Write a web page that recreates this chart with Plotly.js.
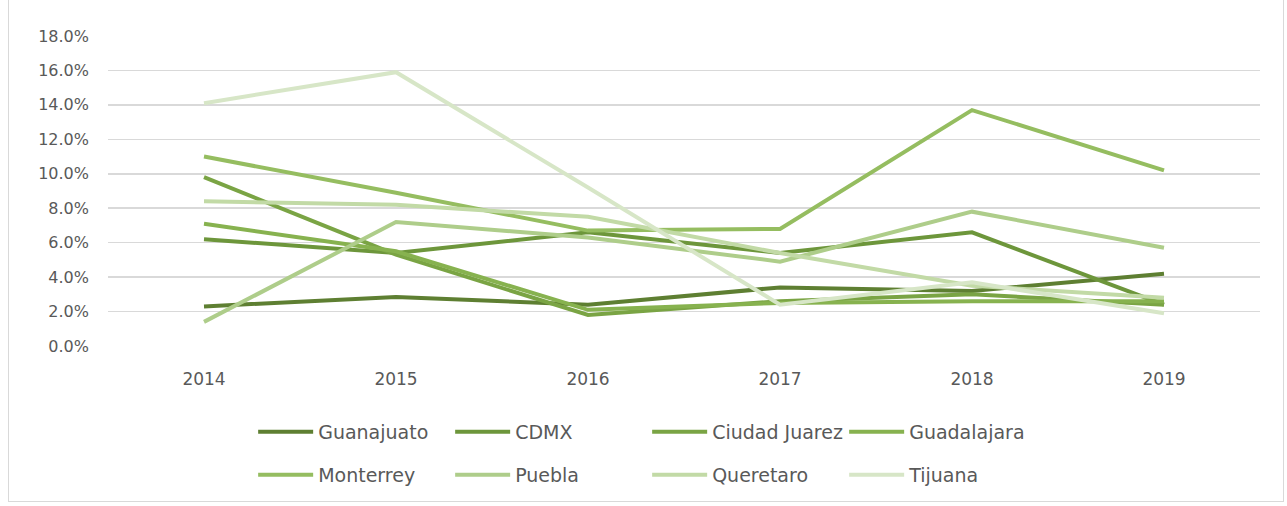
<!DOCTYPE html>
<html>
<head>
<meta charset="utf-8">
<script src="https://cdn.plot.ly/plotly-3.0.1.min.js"></script>
<style>
  html, body { margin: 0; padding: 0; background: #fff; }
  #frame { position: absolute; left: 8px; top: -2px; width: 1276px; height: 504px; border: 1px solid #d9d9d9; box-sizing: border-box; pointer-events: none; }
  #chart { width: 1287px; height: 506px; }
</style>
</head>
<body>
<div id="chart"></div>
<div id="frame"></div>
<script>
const years = ['2014', '2015', '2016', '2017', '2018', '2019'];
const guanajuato   = [2.3, 2.85, 2.4, 3.4, 3.2, 4.2];
const cdmx         = [6.2, 5.4, 6.6, 5.4, 6.6, 2.4];
const ciudadJuarez = [9.8, 5.3, 1.8, 2.6, 3.0, 2.4];
const guadalajara  = [7.1, 5.5, 2.1, 2.5, 2.6, 2.6];
const monterrey    = [11.0, 8.9, 6.7, 6.8, 13.7, 10.2];
const puebla       = [1.4, 7.2, 6.3, 4.9, 7.8, 5.7];
const queretaro    = [8.4, 8.2, 7.5, 5.4, 3.5, 2.8];
const tijuana      = [14.1, 15.9, 9.2, 2.4, 3.7, 1.9];
const yTicks = [0, 2, 4, 6, 8, 10, 12, 14, 16, 18];
const yTickLabels = yTicks.map(v => v.toFixed(1) + '%');

const seriesNames = ['Guanajuato', 'CDMX', 'Ciudad Juarez', 'Guadalajara', 'Monterrey', 'Puebla', 'Queretaro', 'Tijuana'];
const seriesData = [guanajuato, cdmx, ciudadJuarez, guadalajara, monterrey, puebla, queretaro, tijuana];
const colors = ['#5e7f32', '#6d963b', '#7aa444', '#87b24f', '#95bd60', '#aecd8a', '#c2daa6', '#d7e6c7'];

const traces = seriesNames.map((name, i) => ({
  x: years,
  y: seriesData[i],
  name: name,
  type: 'scatter',
  mode: 'lines',
  line: { color: colors[i], width: 4 },
  legend: i < 4 ? 'legend' : 'legend2',
  hoverinfo: 'skip'
}));

const legendBase = {
  orientation: 'h',
  xanchor: 'left',
  yanchor: 'middle',
  x: 0.126,
  font: { family: 'DejaVu Sans, sans-serif', size: 19, color: '#595959' },
  entrywidth: 127,
  entrywidthmode: 'pixels',
  itemwidth: 55,
  tracegroupgap: 0,
  bgcolor: 'rgba(0,0,0,0)'
};

const layout = {
  width: 1287,
  height: 506,
  margin: { l: 108, r: 27, t: 36, b: 160 },
  paper_bgcolor: '#ffffff',
  plot_bgcolor: '#ffffff',
  showlegend: true,
  xaxis: {
    type: 'category',
    range: [-0.5, 5.5],
    showgrid: false,
    zeroline: false,
    showline: false,
    ticks: '',
    tickfont: { family: 'DejaVu Sans, sans-serif', size: 17, color: '#595959' },
    ticklabelstandoff: 21
  },
  yaxis: {
    range: [0, 18],
    tickmode: 'array',
    tickvals: yTicks,
    ticktext: yTickLabels,
    showgrid: true,
    gridcolor: '#d9d9d9',
    gridwidth: 1.5,
    zeroline: false,
    showline: false,
    ticks: '',
    tickfont: { family: 'DejaVu Sans, sans-serif', size: 16, color: '#595959' },
    ticklabelstandoff: 18
  },
  legend: Object.assign({}, legendBase, { y: -0.277 }),
  legend2: Object.assign({}, legendBase, { y: -0.416 })
};

Plotly.newPlot('chart', traces, layout, { displayModeBar: false, staticPlot: true });
</script>
</body>
</html>
